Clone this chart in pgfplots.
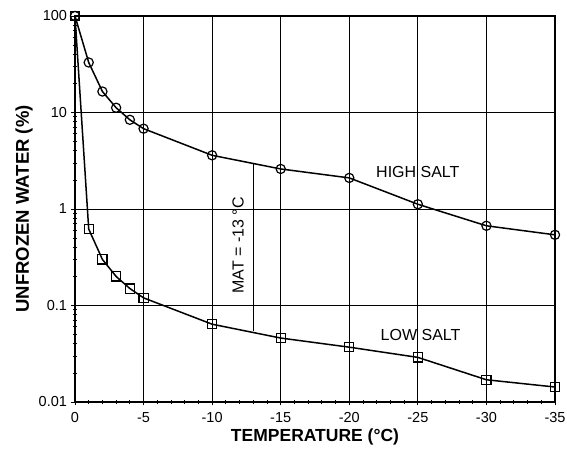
\documentclass[border=0pt]{standalone}
\usepackage{fontspec}
\setmainfont{Liberation Sans}
\usepackage{pgfplots}
\pgfplotsset{compat=1.18}
\begin{document}
\begin{tikzpicture}
\begin{axis}[
  scale only axis, width=480pt, height=386pt,
  xmin=-35, xmax=0, x dir=reverse,
  ymode=log, ymin=0.01, ymax=100,
  xtick={0,-5,-10,-15,-20,-25,-30,-35},
  xticklabels={0,-5,-10,-15,-20,-25,-30,-35},
  minor x tick num=4,
  ytick={0.01,0.1,1,10,100},
  yticklabels={0.01,0.1,1,10,100},
  tick pos=left, tick align=center,
  major tick length=7pt, minor tick length=4pt,
  every tick/.style={black, line width=0.9pt},
  axis line style={line width=1.6pt},
  grid=major,
  major grid style={black, line width=0.9pt},
  ticklabel style={font=\fontsize{14.5}{16}\selectfont},
  xticklabel style={yshift=-3pt},
  yticklabel style={xshift=-1pt},
  xlabel={\bfseries TEMPERATURE (°C)},
  ylabel={\bfseries UNFROZEN WATER (\%)},
  xlabel style={font=\fontsize{17.5}{20}\selectfont, at={(axis description cs:0.5,0)}, anchor=center, yshift=-35pt},
  ylabel style={font=\fontsize{18.5}{20}\selectfont, at={(axis description cs:0,0.5)}, anchor=center, yshift=51pt},
  clip=false,
]
\addplot[black, line width=1.5pt, mark=o, mark size=4.6pt, mark options={solid, line width=1.2pt}]
coordinates {(0,100)(-1,33)(-2,16.5)(-3,11.2)(-4,8.4)(-5,6.8)(-10,3.6)(-15,2.6)(-20,2.1)(-25,1.12)(-30,0.67)(-35,0.54)};
\addplot[black, line width=1.5pt, mark=square, mark size=4.6pt, mark options={solid, line width=1.2pt}]
coordinates {(0,100)(-1,0.62)(-2,0.30)(-3,0.20)(-4,0.15)(-5,0.12)(-10,0.064)(-15,0.046)(-20,0.037)(-25,0.029)(-30,0.017)(-35,0.0143)};
\addplot[black, line width=1.4pt, no marks] coordinates {(-13,0.0545)(-13,3.0)};
\node[rotate=90, font=\fontsize{16}{18}\selectfont] at (axis cs:-11.9,0.42) {MAT = -13 °C};
\node[font=\fontsize{16}{18}\selectfont] at (axis cs:-25,2.4) {HIGH SALT};
\node[font=\fontsize{16}{18}\selectfont] at (axis cs:-25.2,0.049) {LOW SALT};
\end{axis}
\pgfresetboundingbox
\path ([shift={(-75pt,-51pt)}]current axis.south west) rectangle ([shift={(12pt,16pt)}]current axis.north east);
\end{tikzpicture}
\end{document}
